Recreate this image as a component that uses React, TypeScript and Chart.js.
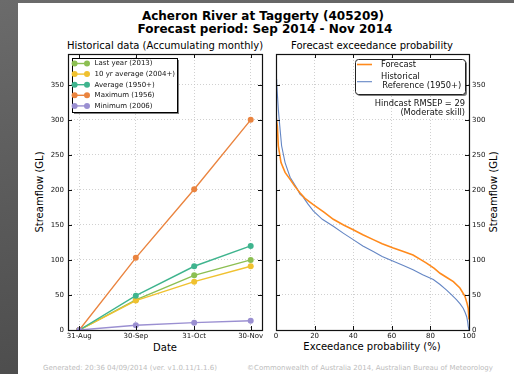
import { useEffect, useRef } from "react";
import { Chart, registerables } from "chart.js";

Chart.register(...registerables);

const FONT = '"DejaVu Sans", sans-serif';

// Accumulated monthly streamflow (GL) at month ends
const dateLabels = ["31-Aug", "30-Sep", "31-Oct", "30-Nov"];
const dateDays = [0, 30, 61, 91];
const lastYear2013 = [0, 43, 78, 100];
const tenYearAverage = [0, 42, 69, 91];
const averageSince1950 = [0, 49, 91, 120];
const maximum1956 = [0, 103, 201, 300];
const minimum2006 = [0, 6.7, 10.5, 13.3];

const streamflowTicks = [0, 50, 100, 150, 200, 250, 300, 350];
const probabilityTicks = [0, 20, 40, 60, 80, 100];

// Exceedance curves: probability (%) against streamflow (GL)
const forecastProb = [0, 0.7, 1.2, 2.6, 4.7, 7.3, 9.8, 12.4, 15, 19.3, 25, 29.7, 35, 40, 45, 50.4, 55, 60.8, 66, 71, 75, 78, 82, 85, 88.5, 91.9, 95.3, 97.9, 99, 99.6, 100];
const forecastFlow = [305, 291, 263, 239, 225, 215, 205, 196, 188, 179, 168, 158, 150, 143, 136, 129, 123, 117, 112, 107, 100.5, 95.5, 88, 81, 75, 69, 60, 48, 38, 31, 15];
const historicalProb = [0, 0.35, 1.2, 2.1, 2.9, 4.7, 7.3, 10.7, 12.4, 14, 16.5, 19.3, 24, 29.7, 35, 40, 45, 50.4, 55, 60.8, 66, 71, 76, 81.5, 85, 88.4, 91, 93.6, 95.5, 97, 98, 98.8, 99.3, 99.6, 100];
const historicalFlow = [358, 353, 315, 287, 263, 239, 218, 203, 194, 190, 180, 170, 158, 148, 138, 129, 120, 112, 105, 98, 92, 86, 79, 72, 65, 57, 50, 43, 37, 31, 25, 19, 12, 5, 0];
const hindcastRmsep = 29;
const skillLabel = "Moderate skill";

const gridStyle = { color: "#c4c4c4", lineWidth: 0.8, drawTicks: false };
const borderStyle = { display: false, dash: [1, 2] };
const tickFont = { family: FONT, size: 7 };

// Box around the plot area with inward tick marks on all four sides
const framePlugin = {
  id: "frame",
  afterDatasetsDraw(chart: any) {
    const { ctx, chartArea: a } = chart;
    const xs = chart.scales.x;
    const ys = chart.scales.y;
    ctx.save();
    ctx.strokeStyle = "#111";
    ctx.lineWidth = 1;
    ctx.beginPath();
    for (const t of xs.ticks) {
      const px = Math.round(xs.getPixelForValue(t.value)) + 0.5;
      ctx.moveTo(px, a.bottom);
      ctx.lineTo(px, a.bottom - 4);
      ctx.moveTo(px, a.top);
      ctx.lineTo(px, a.top + 4);
    }
    for (const t of ys.ticks) {
      const py = Math.round(ys.getPixelForValue(t.value)) + 0.5;
      ctx.moveTo(a.left, py);
      ctx.lineTo(a.left + 4, py);
      ctx.moveTo(a.right, py);
      ctx.lineTo(a.right - 4, py);
    }
    ctx.stroke();
    ctx.lineWidth = 1.2;
    ctx.strokeRect(Math.round(a.left) + 0.5, Math.round(a.top) + 0.5, Math.round(a.right - a.left), Math.round(a.bottom - a.top));
    ctx.restore();
  },
};

const historyLegend = {
  id: "historyLegend",
  afterDraw(chart: any) {
    const { ctx, chartArea: a } = chart;
    const x = Math.round(a.left) + 4;
    const y = Math.round(a.top) + 4;
    const w = 105;
    const h = 54;
    const rowH = 10.6;
    ctx.save();
    ctx.fillStyle = "rgba(0,0,0,0.5)";
    ctx.fillRect(x + 2, y + 2, w, h);
    ctx.fillStyle = "#fff";
    ctx.fillRect(x, y, w, h);
    ctx.strokeStyle = "#000";
    ctx.lineWidth = 1;
    ctx.strokeRect(x + 0.5, y + 0.5, w, h);
    ctx.font = `7px ${FONT}`;
    ctx.textBaseline = "middle";
    chart.data.datasets.forEach((ds: any, i: number) => {
      const cy = y + 5.5 + i * rowH;
      ctx.strokeStyle = ds.borderColor;
      ctx.lineWidth = 1.4;
      ctx.beginPath();
      ctx.moveTo(x + 2.6, cy);
      ctx.lineTo(x + 15, cy);
      ctx.stroke();
      ctx.fillStyle = ds.borderColor;
      for (const mx of [x + 2.6, x + 15]) {
        ctx.beginPath();
        ctx.arc(mx, cy, 3, 0, Math.PI * 2);
        ctx.fill();
      }
      ctx.fillStyle = "#111";
      ctx.fillText(ds.label, x + 22.6, cy);
    });
    ctx.restore();
  },
};

const forecastLegend = {
  id: "forecastLegend",
  afterDraw(chart: any) {
    const { ctx, chartArea: a } = chart;
    const w = 110;
    const h = 35;
    const x = Math.round(a.right) - 4 - w;
    const y = Math.round(a.top) + 5;
    const ds = chart.data.datasets;
    ctx.save();
    ctx.fillStyle = "rgba(0,0,0,0.5)";
    ctx.beginPath();
    ctx.roundRect(x + 2, y + 2, w, h, 3);
    ctx.fill();
    ctx.fillStyle = "#fff";
    ctx.strokeStyle = "#222";
    ctx.lineWidth = 1;
    ctx.beginPath();
    ctx.roundRect(x + 0.5, y + 0.5, w, h, 3);
    ctx.fill();
    ctx.stroke();

    ctx.font = `8.3px ${FONT}`;
    ctx.textBaseline = "middle";
    // Forecast entry
    ctx.strokeStyle = ds[0].borderColor;
    ctx.lineWidth = ds[0].borderWidth;
    ctx.beginPath();
    ctx.moveTo(x + 2, y + 5.5);
    ctx.lineTo(x + 17, y + 5.5);
    ctx.stroke();
    ctx.fillStyle = "#111";
    ctx.fillText(ds[0].label, x + 26, y + 5.5);
    // Historical entry (two lines of text)
    ctx.strokeStyle = ds[1].borderColor;
    ctx.lineWidth = ds[1].borderWidth;
    ctx.beginPath();
    ctx.moveTo(x + 2, y + 22.7);
    ctx.lineTo(x + 17, y + 22.7);
    ctx.stroke();
    const lines = String(ds[1].label).split("\n");
    ctx.fillText(lines[0], x + 26, y + 17.7);
    ctx.fillText(lines[1], x + 27.3, y + 27);

    // Skill note
    ctx.textAlign = "right";
    ctx.fillText(`Hindcast RMSEP = ${hindcastRmsep}`, x + w, y + 44.5);
    ctx.fillText(`(${skillLabel})`, x + w, y + 54);
    ctx.restore();
  },
};

function streamflowAxis(position: "left" | "right") {
  return {
    type: "linear" as const,
    position,
    min: 0,
    max: 394,
    afterBuildTicks: (scale: any) => {
      scale.ticks = streamflowTicks.map((v) => ({ value: v }));
    },
    afterFit: (scale: any) => {
      scale.width = 30;
    },
    grid: gridStyle,
    border: borderStyle,
    ticks: {
      font: tickFont,
      color: "#111",
      padding: position === "left" ? 4 : 3,
      callback: (v: any) => String(v),
    },
  };
}

function HistoryChart() {
  const ref = useRef<HTMLCanvasElement | null>(null);
  useEffect(() => {
    if (!ref.current) return;
    const series = [
      { label: "Last year (2013)", values: lastYear2013, color: "#8cbf52" },
      { label: "10 yr average (2004+)", values: tenYearAverage, color: "#f0c12f" },
      { label: "Average (1950+)", values: averageSince1950, color: "#3fb48e" },
      { label: "Maximum (1956)", values: maximum1956, color: "#ea843f" },
      { label: "Minimum (2006)", values: minimum2006, color: "#9a8fd1" },
    ];
    const chart = new Chart(ref.current, {
      type: "line",
      data: {
        datasets: series.map((s, i) => ({
          label: s.label,
          data: s.values.map((v, j) => ({ x: dateDays[j], y: v })),
          borderColor: s.color,
          backgroundColor: s.color,
          pointBackgroundColor: s.color,
          pointBorderColor: s.color,
          pointRadius: 3,
          pointBorderWidth: 0,
          borderWidth: 1.4,
          tension: 0,
          order: series.length - i,
        })),
      },
      options: {
        responsive: false,
        animation: false,
        events: [],
        layout: { padding: { left: 38, right: 252, top: 54, bottom: 24 } },
        plugins: { legend: { display: false }, tooltip: { enabled: false } },
        scales: {
          x: {
            type: "linear",
            min: -6,
            max: 97,
            afterBuildTicks: (scale: any) => {
              scale.ticks = dateDays.map((v) => ({ value: v }));
            },
            afterFit: (scale: any) => {
              scale.height = 20;
            },
            grid: gridStyle,
            border: borderStyle,
            ticks: {
              font: tickFont,
              color: "#111",
              padding: 2,
              autoSkip: false,
              maxRotation: 0,
              callback: (_v: any, i: number) => dateLabels[i],
            },
          },
          y: streamflowAxis("left"),
        },
      },
      plugins: [framePlugin, historyLegend],
    });
    return () => chart.destroy();
  }, []);
  return <canvas ref={ref} width={514} height={374} style={{ position: "absolute", left: 0, top: 0 }} />;
}

function ExceedanceChart() {
  const ref = useRef<HTMLCanvasElement | null>(null);
  useEffect(() => {
    if (!ref.current) return;
    const chart = new Chart(ref.current, {
      type: "line",
      data: {
        datasets: [
          {
            label: "Forecast",
            data: forecastProb.map((p, i) => ({ x: p, y: forecastFlow[i] })),
            borderColor: "#ff8a1c",
            borderWidth: 1.6,
            pointRadius: 0,
            tension: 0,
          },
          {
            label: "Historical\nReference (1950+)",
            data: historicalProb.map((p, i) => ({ x: p, y: historicalFlow[i] })),
            borderColor: "#6486c4",
            borderWidth: 1.1,
            pointRadius: 0,
            tension: 0,
          },
        ],
      },
      options: {
        responsive: false,
        animation: false,
        events: [],
        layout: { padding: { left: 276, right: 15, top: 54, bottom: 24 } },
        plugins: { legend: { display: false }, tooltip: { enabled: false } },
        scales: {
          x: {
            type: "linear",
            min: 0,
            max: 100,
            afterBuildTicks: (scale: any) => {
              scale.ticks = probabilityTicks.map((v) => ({ value: v }));
            },
            afterFit: (scale: any) => {
              scale.height = 20;
            },
            grid: gridStyle,
            border: borderStyle,
            ticks: { font: tickFont, color: "#111", padding: 2, autoSkip: false, maxRotation: 0 },
          },
          y: streamflowAxis("right"),
        },
      },
      plugins: [framePlugin, forecastLegend],
    });
    return () => chart.destroy();
  }, []);
  return <canvas ref={ref} width={514} height={374} style={{ position: "absolute", left: 0, top: 0 }} />;
}

function Label(props: { x: number; y: number; size: number; text: string; bold?: boolean; rotate?: boolean; color?: string; anchor?: "left" | "center" }) {
  const { x, y, size, text, bold, rotate, color, anchor = "center" } = props;
  const tx = anchor === "center" ? "-50%" : "0";
  return (
    <div
      style={{
        position: "absolute",
        left: x,
        top: y,
        transform: `translate(${tx}, -50%)${rotate ? " rotate(-90deg)" : ""}`,
        fontFamily: FONT,
        fontSize: size,
        fontWeight: bold ? "bold" : "normal",
        color: color || "#000",
        whiteSpace: "nowrap",
        lineHeight: 1,
      }}
    >
      {text}
    </div>
  );
}

export default function App() {
  return (
    <div
      style={{
        position: "fixed",
        left: 0,
        top: 0,
        width: 514,
        height: 374,
        overflow: "hidden",
        background: "linear-gradient(170deg, #6b6b6b 0%, #5a5a5a 45%, #474747 100%)",
      }}
    >
      <div style={{ position: "absolute", left: 18, top: 3, right: 0, bottom: 0, background: "#fff" }} />
      <Label x={263} y={15.5} size={12} bold text="Acheron River at Taggerty (405209)" />
      <Label x={265} y={28.5} size={12} bold text="Forecast period: Sep 2014 - Nov 2014" />
      <Label x={165} y={46} size={10} text="Historical data (Accumulating monthly)" />
      <Label x={372} y={46} size={10} text="Forecast exceedance probability" />
      <Label x={165} y={348} size={10} text="Date" />
      <Label x={372} y={347} size={10} text="Exceedance probability (%)" />
      <Label x={40} y={192} size={10} rotate text="Streamflow (GL)" />
      <Label x={494} y={192} size={10} rotate text="Streamflow (GL)" />
      <Label x={43} y={368} size={7} anchor="left" color="#bdbdbd" text="Generated: 20:36 04/09/2014 (ver. v1.0.11/1.1.6)" />
      <Label x={247} y={368} size={7} anchor="left" color="#bdbdbd" text="©Commonwealth of Australia 2014, Australian Bureau of Meteorology" />
      <HistoryChart />
      <ExceedanceChart />
    </div>
  );
}
